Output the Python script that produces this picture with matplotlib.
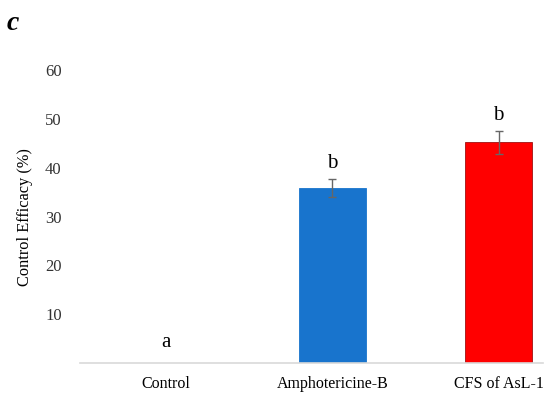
import matplotlib.pyplot as plt
import numpy as np

# данные
categories = ['Control', 'Amphotericine-B', 'CFS of AsL-1']
efficacy = [0, 35.9, 45.2]
errors = [0, 1.9, 2.3]
letters = ['a', 'b', 'b']
colors = ['#1f77b4', '#1874cd', '#ff0000']

plt.rcParams['font.family'] = ['Liberation Serif', 'DejaVu Serif']

fig = plt.figure(figsize=(5.5, 3.96), dpi=100)
ax = fig.add_axes([0.145, 0.083, 0.843, 0.74])

x = np.arange(len(categories))
ax.bar(x, efficacy, width=0.4, color=colors,
       edgecolor=['none', '#1874cd', '#a01010'], linewidth=0.6)

# планки погрешностей только для ненулевых столбцов
has_err = [i for i, e in enumerate(errors) if e > 0]
ax.errorbar(x[has_err], [efficacy[i] for i in has_err], yerr=[errors[i] for i in has_err],
            fmt='none', ecolor='#666666', elinewidth=1.0, capsize=3, capthick=1.0)

# буквы значимости
for xi, v, e, t in zip(x, efficacy, errors, letters):
    y = v + e + 1.2 if v > 0 else 2.2
    ax.text(xi, y, t, ha='center', va='bottom', fontsize=15, color='black')

ax.set_xlim(-0.52, 2.27)
ax.set_ylim(0, 60)
ax.set_yticks([10, 20, 30, 40, 50, 60])
ax.set_xticks(x)
ax.set_xticklabels(categories, fontsize=11.5)
ax.tick_params(axis='y', labelsize=12, length=0, pad=13, labelcolor='#333333')
ax.tick_params(axis='x', length=0, pad=9)
ax.set_ylabel('Control Efficacy (%)', fontsize=11.8)
ax.yaxis.set_label_coords(-0.1, 0.5)

for s in ['top', 'right', 'left']:
    ax.spines[s].set_visible(False)
ax.spines['bottom'].set_color('#d9d9d9')
ax.spines['bottom'].set_linewidth(1.2)

fig.text(0.012, 0.925, 'c', fontsize=20, fontweight='bold', fontstyle='italic')

plt.savefig('out.png', dpi=100)
